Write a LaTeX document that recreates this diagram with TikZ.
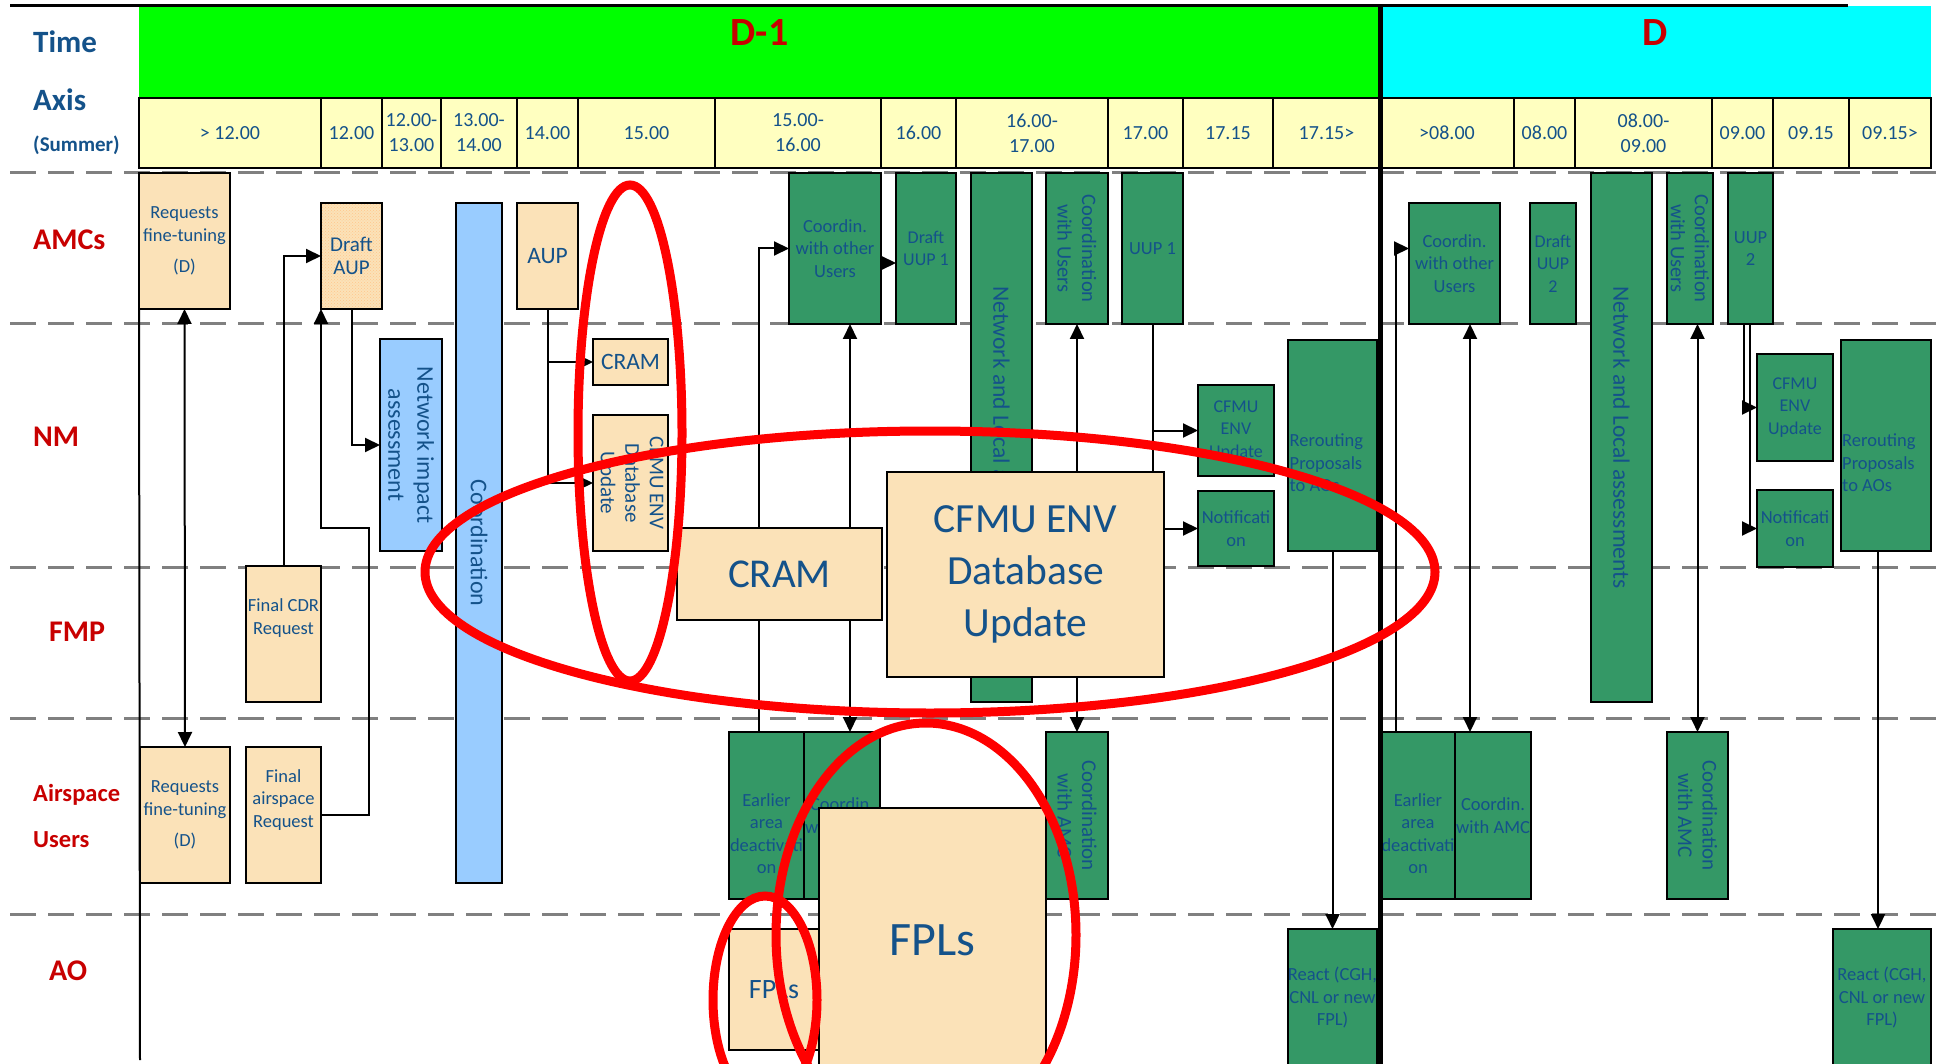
\documentclass[tikz,border=0pt]{standalone}
\usepackage{fontspec}
\setmainfont{Carlito}
\usetikzlibrary{arrows.meta,patterns,calc}
\pgfdeclarelayer{back}
\pgfdeclarelayer{links}
\pgfsetlayers{back,links,main}
\definecolor{hdrgreen}{RGB}{0,255,0}
\definecolor{hdrcyan}{RGB}{0,255,255}
\definecolor{cellyel}{RGB}{255,255,192}
\definecolor{beige}{RGB}{251,226,184}
\definecolor{grn}{RGB}{52,152,102}
\definecolor{lblue}{RGB}{153,204,255}
\definecolor{tblue}{RGB}{20,82,138}
\definecolor{lanered}{RGB}{200,0,0}
\definecolor{dgray}{RGB}{128,128,128}
\newcommand\fs[2]{\fontsize{#1}{#2}\selectfont}
% name, x1, y1, x2, y2, box style, text style, text
\newcommand\bx[8]{%
  \node[#6, minimum width={(#4)-(#2)}, minimum height={(#5)-(#3)}] (#1) at ({((#2)+(#4))/2},{((#3)+(#5))/2}) {};
  \node[txt,#7] (#1-t) at (#1.center) {#8};}
\tikzset{
  bxs/.style={draw=black, line width=2.5pt, inner sep=0pt, outer sep=0pt},
  bg/.style={bxs, fill=beige},
  gb/.style={bxs, fill=grn},
  bb/.style={bxs, fill=lblue},
  cellbox/.style={bxs, fill=cellyel},
  hdrfill/.style={inner sep=0pt, outer sep=0pt},
  txt/.style={inner sep=0pt, text=tblue, align=center, font=\fs{18.5}{22.5}},
  rotd/.style={rotate=-90},
  conn/.style={line width=2pt, draw=black},
  arr/.style={conn, -{Triangle[length=15pt,width=14pt]}},
  darr/.style={conn, {Triangle[length=15pt,width=14pt]}-{Triangle[length=15pt,width=14pt]}},
  lanelbl/.style={anchor=west, inner sep=0pt, text=lanered, font=\bfseries\fs{30}{36}},
  hdrlbl/.style={anchor=west, inner sep=0pt, text=tblue, font=\bfseries\fs{31}{36}},
  lanesep/.style={draw=dgray, line width=3pt, dash pattern=on 26pt off 12pt},
  redring/.style={draw=red, line width=9pt},
}
\begin{document}
\begin{tikzpicture}[x={(1pt,0pt)}, y={(0pt,-1pt)}]
\useasboundingbox (0,0) rectangle (1937,1064);
\begin{pgfonlayer}{back}
\fill[white] (0,0) rectangle (1937,1064);
\foreach \yy in {173,324,567,718,914} \draw[lanesep] (10,\yy) -- (1937,\yy);
\end{pgfonlayer}
\begin{scope}
\clip (0,0) rectangle (1937,1064);
% header
\bx{hdrD1}{139}{6}{1380}{98}{hdrfill, fill=hdrgreen}{text=lanered, font=\bfseries\fs{40}{48}, yshift=19pt}{D-1}
\bx{hdrD}{1380}{6}{1931}{98}{hdrfill, fill=hdrcyan}{text=lanered, font=\bfseries\fs{40}{48}, yshift=19pt}{D}
\draw[line width=3pt] (10,6) -- (1848,6);
\node[hdrlbl] (tTime) at (33,42) {Time};
\node[hdrlbl] (tAxis) at (33,100) {Axis};
\node[hdrlbl, font=\bfseries\fs{21}{25}] (tSummer) at (33,145) {(Summer)};
% time cells
\bx{c1}{139}{98}{321}{168}{cellbox}{font=\fs{20}{25}}{> 12.00}
\bx{c2}{321}{98}{382}{168}{cellbox}{font=\fs{20}{25}}{12.00}
\bx{c3}{382}{98}{441}{168}{cellbox}{font=\fs{20}{25}}{12.00-\\13.00}
\bx{c4}{441}{98}{517}{168}{cellbox}{font=\fs{20}{25}}{13.00-\\14.00}
\bx{c5}{517}{98}{578}{168}{cellbox}{font=\fs{20}{25}}{14.00}
\bx{c6}{578}{98}{715}{168}{cellbox}{font=\fs{20}{25}}{15.00}
\bx{c7}{715}{98}{881}{168}{cellbox}{font=\fs{20}{25}}{15.00-\\16.00}
\bx{c8}{881}{98}{956}{168}{cellbox}{font=\fs{20}{25}}{16.00}
\bx{c9}{956}{98}{1108}{168}{cellbox}{font=\fs{20}{25}}{16.00-\\17.00}
\bx{c10}{1108}{98}{1183}{168}{cellbox}{font=\fs{20}{25}}{17.00}
\bx{c11}{1183}{98}{1273}{168}{cellbox}{font=\fs{20}{25}}{17.15}
\bx{c12}{1273}{98}{1380}{168}{cellbox}{font=\fs{20}{25}}{17.15>}
\bx{c13}{1380}{98}{1514}{168}{cellbox}{font=\fs{20}{25}}{>08.00}
\bx{c14}{1514}{98}{1575}{168}{cellbox}{font=\fs{20}{25}}{08.00}
\bx{c15}{1575}{98}{1712}{168}{cellbox}{font=\fs{20}{25}}{08.00-\\09.00}
\bx{c16}{1712}{98}{1773}{168}{cellbox}{font=\fs{20}{25}}{09.00}
\bx{c17}{1773}{98}{1849}{168}{cellbox}{font=\fs{20}{25}}{09.15}
\bx{c18}{1849}{98}{1931}{168}{cellbox}{font=\fs{20}{25}}{09.15>}
% lane labels
\node[lanelbl] (lAMC) at (33,240) {AMCs};
\node[lanelbl] (lNM) at (33,437) {NM};
\node[lanelbl] (lFMP) at (49,632) {FMP};
\node[lanelbl, font=\bfseries\fs{24.5}{30}] (lAir) at (33,795) {Airspace};
\node[lanelbl, font=\bfseries\fs{24.5}{30}] (lUsers) at (33,840) {Users};
\node[lanelbl] (lAO) at (49,971) {AO};
% AMCs lane
\bx{amcReq}{139}{173}{230}{309}{bg}{}{Requests\\fine-tuning\\[9pt](D)}
\bx{draftAUP}{321}{203}{382}{309}{bxs, preaction={fill=beige}, pattern=crosshatch dots, pattern color=orange!45}{font=\fs{21}{23}}{Draft\\AUP}
\bx{coordBar}{456}{203}{502}{883}{bb}{rotd, font=\fs{24}{29}}{Coordination}
\bx{aup}{517}{203}{578}{309}{bg}{font=\fs{23.5}{28}}{AUP}
\bx{coordOU1}{789}{173}{881}{324}{gb}{}{Coordin.\\with other\\Users}
\bx{draftUUP1}{896}{173}{956}{324}{gb}{font=\fs{18}{22}}{Draft\\UUP 1}
\bx{nl1}{971}{173}{1032}{702}{gb}{rotd, font=\fs{23.5}{28}}{Network and Local assessments}
\bx{cwu1}{1046}{173}{1108}{324}{gb}{rotd, font=\fs{20.5}{24.5}}{Coordination\\with Users}
\bx{uup1}{1122}{173}{1183}{324}{gb}{}{UUP 1}
\bx{coordOU2}{1409}{203}{1500}{324}{gb}{}{Coordin.\\with other\\Users}
\bx{draftUUP2}{1530}{203}{1576}{324}{gb}{font=\fs{18}{22.5}}{Draft\\UUP\\2}
\bx{nl2}{1591}{173}{1652}{702}{gb}{rotd, font=\fs{23.5}{28}}{Network and Local assessments}
\bx{cwu2}{1667}{173}{1713}{324}{gb}{rotd, font=\fs{20.5}{24}}{Coordination\\with Users}
\bx{uup2}{1728}{173}{1773}{324}{gb}{font=\fs{18.5}{22}}{UUP\\2}
% NM lane
\bx{nia}{380}{339}{442}{551}{bb}{rotd, font=\fs{24}{29}}{Network impact\\assessment}
\bx{cramS}{593}{339}{668}{385}{bg}{font=\fs{23.5}{28}}{CRAM}
\bx{cfmuS}{593}{415}{668}{551}{bg}{rotd, font=\fs{21}{24.5}}{CFMU ENV\\Database\\Update}
\bx{cfmuU1}{1198}{385}{1274}{476}{gb}{font=\fs{18}{22.5}}{CFMU\\ENV\\Update}
\bx{notif1}{1198}{491}{1274}{566}{gb}{}{Notificati\\on}
\bx{rer1}{1288}{340}{1377}{551}{gb}{anchor=west, align=left, xshift=-43pt, yshift=-17.5pt}{Rerouting\\Proposals\\to AOs}
\bx{cfmuU2}{1757}{354}{1833}{461}{gb}{font=\fs{18}{22.5}}{CFMU\\ENV\\Update}
\bx{notif2}{1757}{490}{1833}{567}{gb}{}{Notificati\\on}
\bx{rer2}{1841}{340}{1931}{551}{gb}{anchor=west, align=left, xshift=-44pt, yshift=-17.5pt}{Rerouting\\Proposals\\to AOs}
% FMP lane
\bx{finalCDR}{246}{566}{321}{702}{bg}{yshift=16pt}{Final CDR\\Request}
% Airspace users lane
\bx{auReq}{140}{747}{230}{883}{bg}{}{Requests\\fine-tuning\\[9pt](D)}
\bx{finalAS}{246}{747}{321}{883}{bg}{yshift=15pt}{Final\\airspace\\Request}
\bx{ead1}{729}{732}{804}{899}{gb}{yshift=-18pt}{Earlier\\area\\deactivati\\on}
\bx{cwa1}{804}{732}{880}{899}{gb}{}{Coordin.\\with AMC}
\bx{cwAMC1}{1046}{732}{1108}{899}{gb}{rotd, font=\fs{21}{24.5}}{Coordination\\with AMC}
\bx{ead2}{1381}{732}{1455}{899}{gb}{yshift=-18pt}{Earlier\\area\\deactivati\\on}
\bx{cwa2}{1455}{732}{1531}{899}{gb}{}{Coordin.\\with AMC}
\bx{cwAMC2}{1667}{732}{1728}{899}{gb}{rotd, font=\fs{21}{24.5}}{Coordination\\with AMC}
% AO lane
\bx{fplS}{729}{929}{819}{1050}{bg}{font=\fs{28}{32}}{FPLs}
\bx{react1}{1288}{929}{1377}{1080}{gb}{yshift=6.5pt}{React (CGH,\\CNL or new\\FPL)}
\bx{react2}{1833}{929}{1931}{1080}{gb}{yshift=6.5pt}{React (CGH,\\CNL or new\\FPL)}
% big highlighted boxes
\bx{cramB}{677}{528}{882}{620}{bg}{font=\fs{41}{50}}{CRAM}
\bx{cfmuB}{887}{472}{1164}{677}{bg}{font=\fs{41.5}{51.7}}{CFMU ENV\\Database\\Update}
\bx{fplB}{819}{808}{1046}{1080}{bg}{font=\fs{48}{56}, yshift=4pt}{FPLs}
% connectors (drawn behind the boxes)
\begin{pgfonlayer}{links}
\coordinate (lineEnd) at (140,1060);
\draw[conn] (amcReq.south west) -- (lineEnd);
\draw[darr] (amcReq.south) -- (auReq.north);
\draw[arr] (finalCDR.north) |- (draftAUP.west);
\coordinate (k1) at (369,528);
\draw[arr] (finalAS.east) -| (k1) -| (draftAUP.south west);
\draw[arr] (draftAUP.south) |- (nia.west);
\draw[arr] (aup.south) |- (cramS.west);
\draw[arr] (aup.south) |- (cfmuS.west);
\coordinate (e1) at (759,732);
\draw[arr] (e1) |- (coordOU1.west);
\draw[arr] ([yshift=-14.5pt]coordOU1.east) -- ([yshift=-14.5pt]draftUUP1.west);
\draw[darr] ([xshift=15pt]coordOU1.south) -- ([xshift=15pt]coordOU1.south |- cwa1.north);
\draw[darr] (cwu1.south) -- (cwAMC1.north);
\draw[arr] (uup1.south) |- (cfmuU1.west);
\draw[arr] (uup1.south) |- (notif1.west);
\draw[arr] (rer1.south) -- (react1.north);
\coordinate (e2) at (1396,732);
\draw[arr] (e2) |- ([yshift=15pt]coordOU2.west);
\draw[darr] ([xshift=15.5pt]coordOU2.south) -- ([xshift=15.5pt]coordOU2.south |- cwa2.north);
\draw[darr] (cwAMC2.north |- cwu2.south) -- (cwAMC2.north);
\draw[arr] ([xshift=-7pt]uup2.south) |- (cfmuU2.west);
\draw[arr] ([xshift=-1pt]uup2.south) |- (notif2.west);
\draw[arr] ([xshift=-4pt]react2.north |- rer2.south) -- ([xshift=-4pt]react2.north);
\end{pgfonlayer}
% D-1 / D divider
\draw[line width=5pt] (1380,6) -- (1380,1064);
% red highlight rings
\draw[redring] (630,433) ellipse [x radius=52pt, y radius=248pt];
\draw[redring] (930,572) ellipse [x radius=505pt, y radius=141pt];
\draw[redring] (926,935) ellipse [x radius=150pt, y radius=212pt];
\draw[redring] (765,1000) ellipse [x radius=52pt, y radius=104pt];
\end{scope}
\end{tikzpicture}
\end{document}
